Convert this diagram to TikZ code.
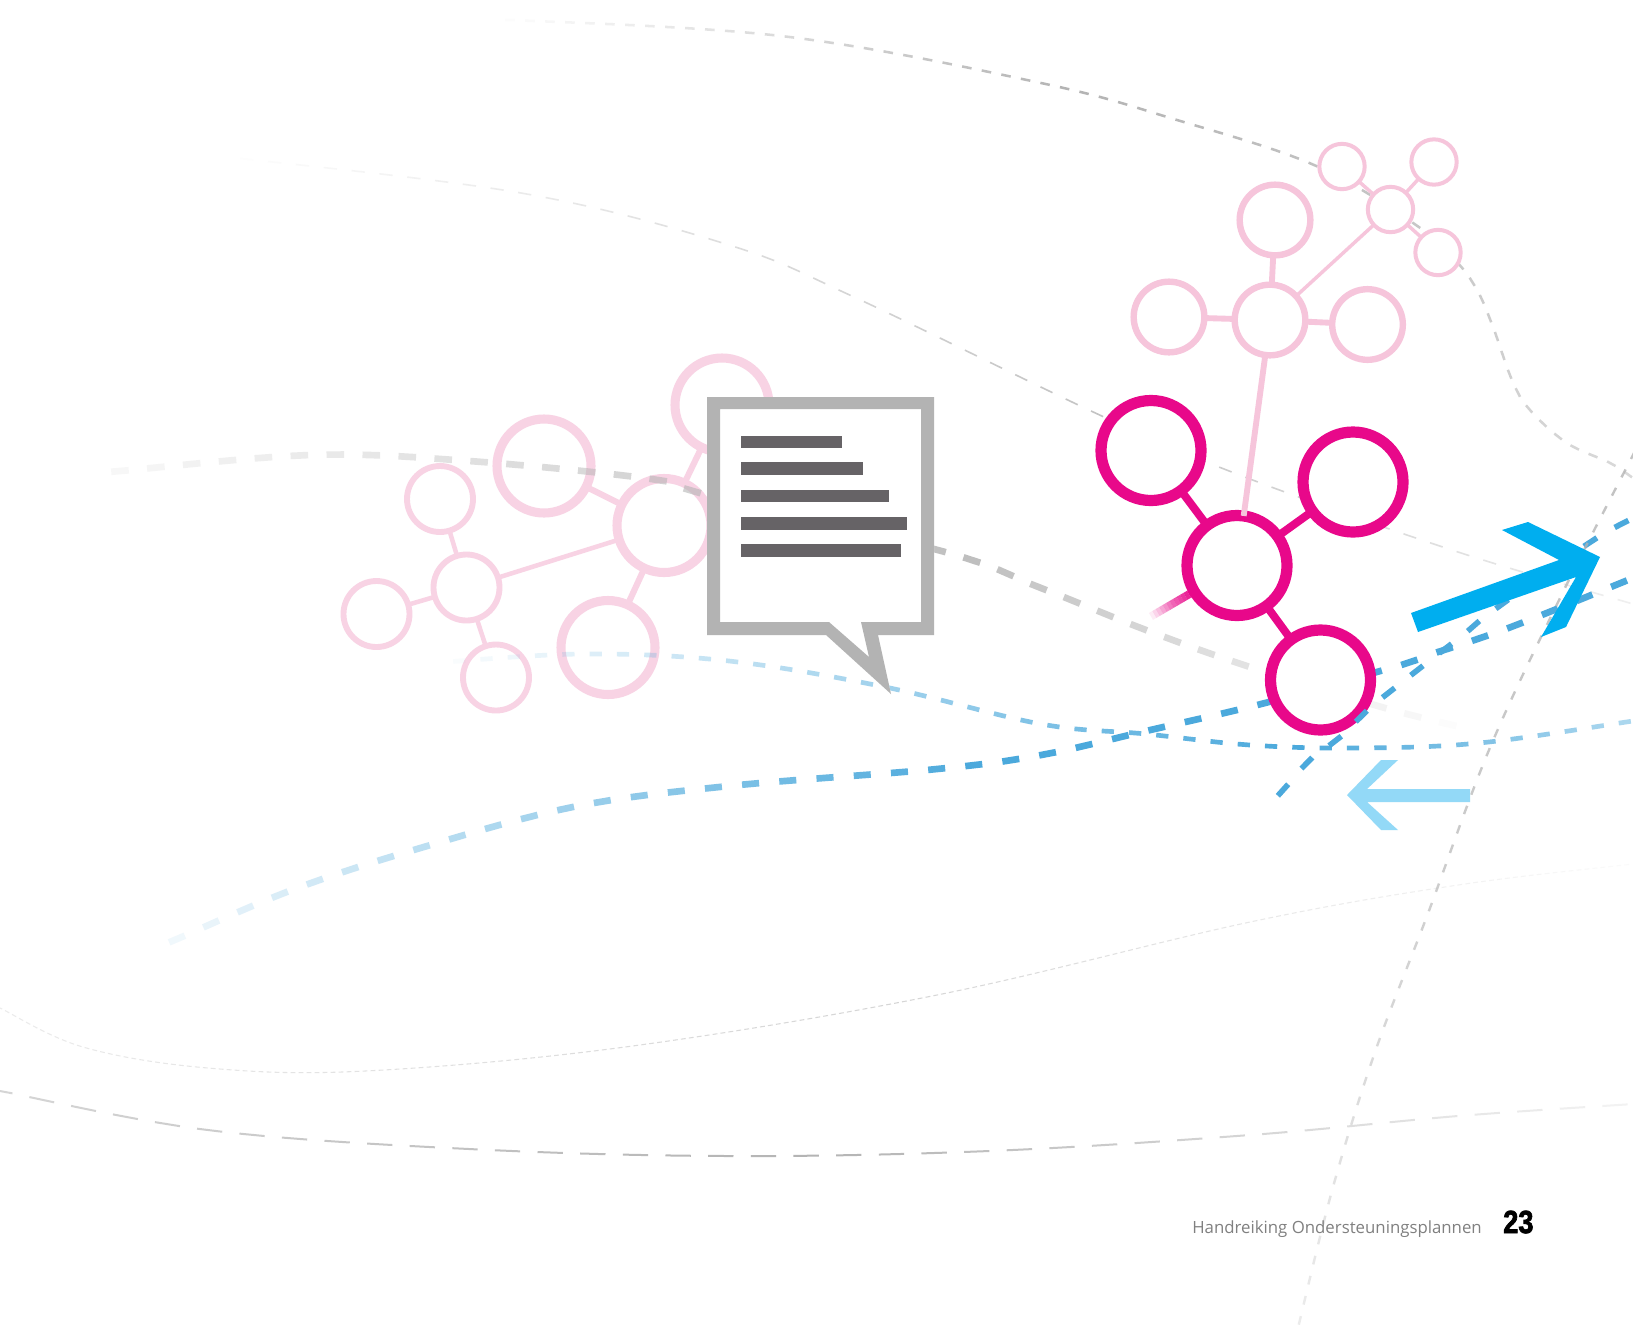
\documentclass[tikz,border=0pt]{standalone}
\usepackage{fontspec}
\setmainfont{Open Sans}
\newfontfamily\pgnum[FakeBold=2.4]{Liberation Sans}
\usetikzlibrary{decorations.markings}
\definecolor{gline}{HTML}{B4B4B4}
\definecolor{bline}{HTML}{4BA9DC}
\definecolor{pinkL}{HTML}{F8D3E4}
\definecolor{pinkR}{HTML}{F6C5DB}
\definecolor{magen}{HTML}{E8088A}
\definecolor{bubbleg}{HTML}{B3B3B3}
\definecolor{barg}{HTML}{666366}
\definecolor{blueA}{HTML}{00AEEF}
\definecolor{blueB}{HTML}{93D9F7}
% #1 colour, #2 width pt, #3 half dash pt, #4 period pt, #5 start op, #6 peak op, #7 end op, #8 peak position, #9 path
\newcommand{\fpath}[9]{%
  \path[postaction={decorate},decoration={markings,
    mark=between positions 0 and 1 step #4pt with {%
      \pgfmathsetmacro\fr{min(1,\pgfkeysvalueof{/pgf/decoration/mark info/distance from start}/\pgfdecoratedpathlength)}%
      \pgfmathsetmacro\opv{\fr<#8 ? (#5)+((#6)-(#5))*\fr/(#8) : (#6)+((#7)-(#6))*(\fr-(#8))/(1-(#8))}%
      \draw[#1,line width=#2pt,opacity=\opv] (-#3pt,0pt)--(#3pt,0pt);
    }}] #9;%
}
% build a smooth path through x/y points (Catmull-Rom)
\newcommand{\buildcr}[1]{%
  \foreach \xx/\yy [count=\ii] in {#1}{%
    \expandafter\xdef\csname crx\ii\endcsname{\xx}%
    \expandafter\xdef\csname cry\ii\endcsname{\yy}%
    \xdef\crn{\ii}}%
  \xdef\crpath{(\csname crx1\endcsname,\csname cry1\endcsname)}%
  \pgfmathtruncatemacro\crlast{\crn-1}%
  \foreach \ii in {1,...,\crlast}{%
    \pgfmathtruncatemacro\im{max(\ii-1,1)}%
    \pgfmathtruncatemacro\ip{\ii+1}%
    \pgfmathtruncatemacro\ipp{min(\ii+2,\crn)}%
    \edef\xa{\csname crx\ii\endcsname}\edef\ya{\csname cry\ii\endcsname}%
    \edef\xb{\csname crx\ip\endcsname}\edef\yb{\csname cry\ip\endcsname}%
    \edef\xc{\csname crx\im\endcsname}\edef\yc{\csname cry\im\endcsname}%
    \edef\xd{\csname crx\ipp\endcsname}\edef\yd{\csname cry\ipp\endcsname}%
    \pgfmathsetmacro\cax{\xa+(\xb-\xc)/6}\pgfmathsetmacro\cay{\ya+(\yb-\yc)/6}%
    \pgfmathsetmacro\cbx{\xb-(\xd-\xa)/6}\pgfmathsetmacro\cby{\yb-(\yd-\ya)/6}%
    \xdef\crpath{\crpath .. controls (\cax,\cay) and (\cbx,\cby) .. (\xb,\yb)}%
  }%
}
\newcommand{\fcurve}[9]{\buildcr{#9}\fpath{#1}{#2}{#3}{#4}{#5}{#6}{#7}{#8}{\crpath}}
\tikzset{
  mcirc/.style={circle,draw=magen,fill=white,line width=8.4pt,minimum size=75pt,inner sep=0pt,outer sep=0pt},
  prbig/.style={circle,draw=pinkR,fill=white,line width=4.8pt,minimum size=53pt,inner sep=0pt,outer sep=0pt},
  prsmall/.style={circle,draw=pinkR,fill=white,line width=3pt,minimum size=34pt,inner sep=0pt,outer sep=0pt},
  plbig/.style={circle,draw=pinkL,line width=6.8pt,minimum size=70.5pt,inner sep=0pt,outer sep=0pt},
  plsmall/.style={circle,draw=pinkL,line width=4.4pt,minimum size=49.5pt,inner sep=0pt,outer sep=0pt},
  mlink/.style={draw=magen,line width=6pt},
  prlink/.style={draw=pinkR,line width=4.4pt},
  prthin/.style={draw=pinkR,line width=2.6pt},
  pllink/.style={draw=pinkL,line width=4.6pt},
  plthin/.style={draw=pinkL,line width=3.4pt},
  textbar/.style={fill=barg},
}
\begin{document}
\begin{tikzpicture}[x=0.75pt,y=-0.75pt]
\useasboundingbox (0,0) rectangle (1633,1332);
\fill[white] (0,0) rectangle (1633,1332);
\clip (0,0) rectangle (1633,1332);

% faint background curves
\fcurve{gline}{0.8}{1.8}{6}{0.25}{0.55}{0.05}{0.55}{0/1008,83/1047,208/1068,365/1071,625/1047,937/995,1250/922,1458/885,1633/864}
\fcurve{gline}{1.5}{9.5}{32}{0.55}{1}{0.15}{0.5}{0/1091,208/1130,469/1149,729/1156,989/1151,1250/1135,1458/1116,1633/1104}
\fcurve{gline}{1.2}{5}{21}{0}{0.8}{0.2}{0.62}{219/156,521/193,729/245,854/297,1104/417,1250/479,1458/552,1633/604}
\fcurve{gline}{1.9}{3.6}{15}{0}{1}{0.5}{0.45}{490/19,781/36,1041/83,1177/120,1314/165,1413/223,1455/260,1477/290,1493/327,1512/380,1530/410,1567/443,1610/463,1633/478}

% left network
\node[plbig] (lc) at (664,525.5) {};
\node[plbig] (lt) at (722,405) {};
\node[plbig] (la) at (544,466) {};
\node[plbig] (lb) at (608,647.5) {};
\node[plsmall] (sm) at (466.5,587.5) {};
\node[plsmall] (st) at (440,499) {};
\node[plsmall] (sl) at (376.5,614) {};
\node[plsmall] (sb) at (496,677.5) {};
\draw[pllink] (lc)--(lt);
\draw[pllink] (lc)--(la);
\draw[pllink] (lc)--(lb);
\draw[plthin] (lc)--(sm);
\draw[plthin] (sm)--(st);
\draw[plthin] (sm)--(sl);
\draw[plthin] (sm)--(sb);

% strong dashed curves
\fcurve{gline}{5}{6.6}{27}{0.1}{0.85}{0}{0.62}{120/471,312/455,469/461,651/479,708/495,945/552,1041/588,1146/630,1250/667,1385/708,1469/729}
\fcurve{bline}{3.5}{4.6}{20.5}{0}{1}{0.45}{0.72}{432/663,583/654,729/661,885/687,1041/724,1146/734,1250/745,1354/748,1479/743,1633/721}
\fcurve{bline}{5}{6.4}{28}{0.08}{1}{1}{0.55}{177/939,292/890,417/849,573/807,729/786,937/769,1041/755,1146/731,1265/703,1394/667,1429/655,1511/627,1633/578}

% speech bubble
\fill[white] (707,397)--(934,397)--(934,635)--(878,635)--(891,694)--(826,635)--(707,635)--cycle;
\fill[bubbleg,even odd rule] (707,397)--(934,397)--(934,635)--(878,635)--(891,694)--(826,635)--(707,635)--cycle
  (720,409)--(921,409)--(921,622)--(861,622)--(869,657)--(829,622)--(720,622)--cycle;
\fill[textbar] (741,436) rectangle (842,448);
\fill[textbar] (741,462) rectangle (863,475);
\fill[textbar] (741,490) rectangle (889,502);
\fill[textbar] (741,517) rectangle (906.5,530);
\fill[textbar] (741,544) rectangle (901,557);

% right pink networks
\node[prbig] (pc) at (1270,320) {};
\node[prbig] (pt) at (1275,220) {};
\node[prbig] (pl) at (1169,317) {};
\node[prbig] (pr) at (1367.5,324.5) {};
\node[prsmall] (qc) at (1390.5,209.5) {};
\node[prsmall] (ql) at (1342,166.5) {};
\node[prsmall] (qr) at (1434,162) {};
\node[prsmall] (qb) at (1438,252.5) {};
\draw[prlink] (pc)--(pt);
\draw[prlink] (pc)--(pl);
\draw[prlink] (pc)--(pr);
\draw[prthin] (pc)--(qc);
\draw[prthin] (qc)--(ql);
\draw[prthin] (qc)--(qr);
\draw[prthin] (qc)--(qb);

% magenta network
\node[mcirc] (mc) at (1237,565.5) {};
\draw[prlink] (pc)--(mc);
\node[mcirc] (ma) at (1151,450.5) {};
\node[mcirc] (mr) at (1353,482) {};
\node[mcirc] (mb) at (1320.5,680) {};
\draw[mlink] (mc)--(ma);
\draw[mlink] (mc)--(mr);
\draw[mlink] (mc)--(mb);
\coordinate (stubend) at (1150,617);
\fpath{magen}{6}{1.5}{3}{1}{0.6}{0}{0.5}{(mc.211)--(stubend)}

% crossing curves
\fcurve{bline}{4.2}{5.8}{27}{1}{1}{1}{0.5}{1283/790,1310/760,1340/737,1370/708,1401/683,1433/658,1463/635,1494/610,1589/543,1633/518}
\fcurve{gline}{1.8}{3.3}{15.5}{0.8}{0.7}{0.25}{0.45}{1633/455,1562/594,1489/750,1427/916,1375/1052,1333/1187,1297/1332}

% arrows
\fill[blueA] (1411,613)--(1559,560)--(1502,530)--(1528,522)--(1600,557)--(1566,627)--(1541,637)--(1576,577)--(1418,632)--cycle;
\fill[blueB] (1347,795)--(1381,760)--(1398,760)--(1367,789)--(1470,789)--(1470,802)--(1367,802)--(1398,830)--(1381,830)--cycle;

% footer
\node[anchor=base west,inner sep=0pt,text=gray,font=\fontsize{12.6}{14}\selectfont] (ft) at (1192,1233) {Handreiking Ondersteuningsplannen};
\node[anchor=base west,inner sep=0pt,xscale=0.85,font=\pgnum\bfseries\fontsize{24}{26}\selectfont] (pg) at (1503,1233) {23};
\end{tikzpicture}
\end{document}
